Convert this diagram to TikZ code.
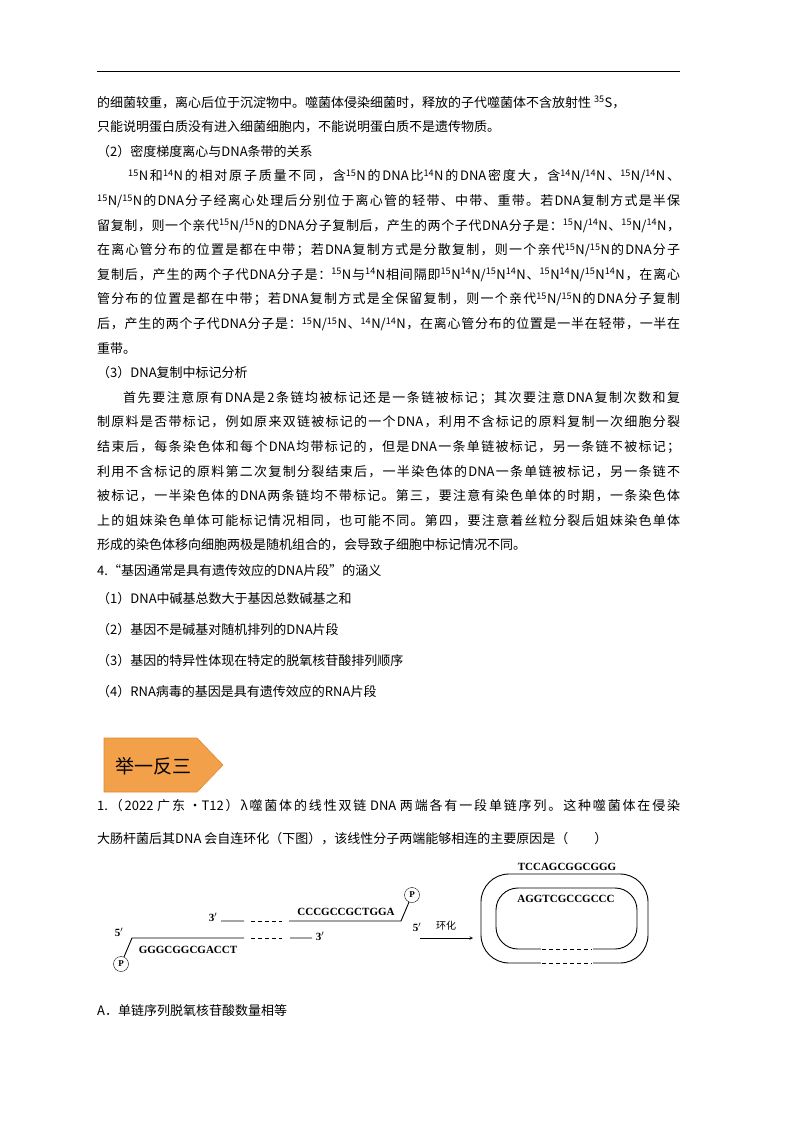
\documentclass[tikz,border=0pt]{standalone}
\usepackage{fontspec}
\setmainfont{Noto Sans CJK SC}
\newfontfamily\seqfont{Liberation Serif}
\newcount\mycc
\mycc="4E00 \loop \XeTeXcharclass\mycc=1 \advance\mycc 1 \ifnum\mycc<"A000 \repeat
\mycc="3000 \loop \XeTeXcharclass\mycc=1 \advance\mycc 1 \ifnum\mycc<"3040 \repeat
\mycc="FF00 \loop \XeTeXcharclass\mycc=1 \advance\mycc 1 \ifnum\mycc<"FFF0 \repeat
\XeTeXinterchartoks 1 1 = {\hskip0pt plus 4pt\relax}
\XeTeXinterchartoks 0 1 = {\hskip0pt plus 4pt\relax}
\XeTeXinterchartoks 1 0 = {\hskip0pt plus 4pt\relax}
\newcommand{\su}[1]{\textsuperscript{#1}}
\definecolor{bannerfill}{HTML}{F3A04A}
\definecolor{bannerdraw}{HTML}{E08A30}
\tikzset{body/.style={anchor=base west,inner sep=0,font=\fontsize{13}{15}\selectfont},
 seq/.style={inner sep=0,font=\seqfont\bfseries\fontsize{11}{12}\selectfont},
 strand/.style={line width=0.9pt},
 dstrand/.style={line width=0.9pt,dash pattern=on 4pt off 3pt},
 pcirc/.style={circle,draw,inner sep=0,minimum size=15pt,font=\seqfont\bfseries\fontsize{9}{10}\selectfont}}
\newcommand{\J}[4]{\node[body] at (#1,#2) {\XeTeXinterchartokenstate=1 \makebox[#3pt][s]{#4}};}
\begin{document}
\begin{tikzpicture}[x=1pt,y=-1pt]
\useasboundingbox (0,0) rectangle (800,1132);
\fill[white] (0,0) rectangle (800,1132);
\draw[line width=1pt] (97,72) -- (680,72);
\def\L#1#2#3{\node[body] at (#1,#2) {#3};}
\L{97}{107}{的细菌较重，离心后位于沉淀物中。噬菌体侵染细菌时，释放的子代噬菌体不含放射性 \su{35}S，}
\L{97}{131.6}{只能说明蛋白质没有进入细菌细胞内，不能说明蛋白质不是遗传物质。}
\L{97}{156.2}{（2）密度梯度离心与DNA条带的关系}
\J{128}{180.8}{552}{\su{15}N和\su{14}N的相对原子质量不同，含\su{15}N的DNA比\su{14}N的DNA密度大，含\su{14}N/\su{14}N、\su{15}N/\su{14}N、}
\J{97}{205.4}{583}{\su{15}N/\su{15}N的DNA分子经离心处理后分别位于离心管的轻带、中带、重带。若DNA复制方式是半保}
\J{97}{230}{583}{留复制，则一个亲代\su{15}N/\su{15}N的DNA分子复制后，产生的两个子代DNA分子是：\su{15}N/\su{14}N、\su{15}N/\su{14}N，}
\J{97}{254.6}{583}{在离心管分布的位置是都在中带；若DNA复制方式是分散复制，则一个亲代\su{15}N/\su{15}N的DNA分子}
\J{97}{279.2}{583}{复制后，产生的两个子代DNA分子是：\su{15}N与\su{14}N相间隔即\su{15}N\su{14}N/\su{15}N\su{14}N、\su{15}N\su{14}N/\su{15}N\su{14}N，在离心}
\J{97}{303.8}{583}{管分布的位置是都在中带；若DNA复制方式是全保留复制，则一个亲代\su{15}N/\su{15}N的DNA分子复制}
\J{97}{328.4}{583}{后，产生的两个子代DNA分子是：\su{15}N/\su{15}N、\su{14}N/\su{14}N，在离心管分布的位置是一半在轻带，一半在}
\L{97}{353}{重带。}
\L{97}{377.6}{（3）DNA复制中标记分析}
\J{123}{402.2}{557}{首先要注意原有DNA是2条链均被标记还是一条链被标记；其次要注意DNA复制次数和复}
\J{97}{426.8}{583}{制原料是否带标记，例如原来双链被标记的一个DNA，利用不含标记的原料复制一次细胞分裂}
\J{97}{451.4}{583}{结束后，每条染色体和每个DNA均带标记的，但是DNA一条单链被标记，另一条链不被标记；}
\J{97}{476}{583}{利用不含标记的原料第二次复制分裂结束后，一半染色体的DNA一条单链被标记，另一条链不}
\J{97}{500.6}{583}{被标记，一半染色体的DNA两条链均不带标记。第三，要注意有染色单体的时期，一条染色体}
\J{97}{525.2}{583}{上的姐妹染色单体可能标记情况相同，也可能不同。第四，要注意着丝粒分裂后姐妹染色单体}
\L{97}{549.8}{形成的染色体移向细胞两极是随机组合的，会导致子细胞中标记情况不同。}
\L{97}{575}{4.“基因通常是具有遗传效应的DNA片段”的涵义}
\L{97}{603}{（1）DNA中碱基总数大于基因总数碱基之和}
\L{97}{634}{（2）基因不是碱基对随机排列的DNA片段}
\L{97}{665}{（3）基因的特异性体现在特定的脱氧核苷酸排列顺序}
\L{97}{696}{（4）RNA病毒的基因是具有遗传效应的RNA片段}
% banner
\draw[fill=bannerfill, draw=bannerdraw, line width=0.6pt]
  (104,738) -- (197,738) -- (223,765) -- (197,792) -- (104,792) -- cycle;
\node[inner sep=0,font=\fontsize{19}{21}\selectfont] (ban) at (153,766) {举一反三};
\J{97}{810}{583}{1.（2022 广东 ·T12）λ噬菌体的线性双链 DNA 两端各有一段单链序列。这种噬菌体在侵染}
\L{97}{843}{大肠杆菌后其DNA 会自连环化（下图），该线性分子两端能够相连的主要原因是（\quad\quad ）}
% diagram
\node[pcirc] (p1) at (412,895) {P};
\node[pcirc] (p2) at (121,964) {P};
\coordinate (t1) at (221,921); \coordinate (t2) at (244,921);
\coordinate (t3) at (251,921); \coordinate (t4) at (282,921);
\coordinate (t5) at (289,921); \coordinate (t6) at (401,921);
\draw[strand] (t1) -- (t2) (t5) -- (t6) -- (p1);
\draw[dstrand] (t3) -- (t4);
\node[seq] at (213,917) {3$'$};
\node[seq] at (417,927) {5$'$};
\node[seq] at (346,912) {CCCGCCGCTGGA};
\coordinate (b0) at (132,938); \coordinate (b1) at (244,938);
\coordinate (b2) at (251,938); \coordinate (b3) at (282,938);
\coordinate (b4) at (290,938); \coordinate (b5) at (312,938);
\draw[strand] (p2) -- (b0) -- (b1) (b4) -- (b5);
\draw[dstrand] (b2) -- (b3);
\node[seq] at (320,936) {3$'$};
\node[seq] at (119,932) {5$'$};
\node[seq] at (188,950) {GGGCGGCGACCT};
\coordinate (a1) at (420,938); \coordinate (a2) at (473,938);
\draw[->,>=stealth,line width=0.6pt] (a1) -- (a2);
\node[inner sep=0,font=\fontsize{10}{11}\selectfont] at (446,926) {环化};
\draw[strand,rounded corners=28pt] (481,874) rectangle (648,963);
\draw[strand,rounded corners=22pt] (496,888) rectangle (637,949);
\fill[white] (541,960) rectangle (593,966);
\fill[white] (541,946) rectangle (593,952);
\draw[dstrand] (542,963) -- (592,963);
\draw[dstrand] (542,949) -- (592,949);
\node[seq] at (567,867) {TCCAGCGGCGGG};
\node[seq] at (566,899) {AGGTCGCCGCCC};
\L{97}{1015}{A．单链序列脱氧核苷酸数量相等}
\end{tikzpicture}
\end{document}
